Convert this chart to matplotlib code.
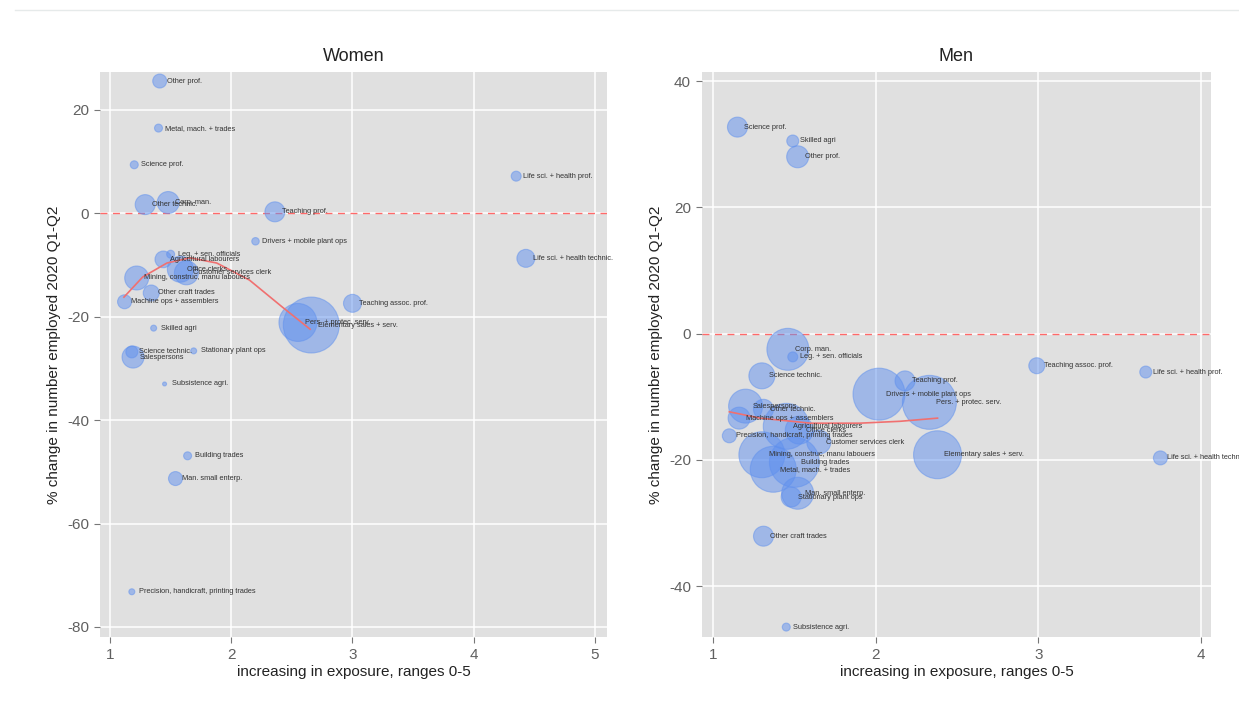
import numpy as np
import matplotlib
matplotlib.use('Agg')
import matplotlib.pyplot as plt
from matplotlib.lines import Line2D

plt.rcParams['font.family'] = ['Liberation Sans', 'DejaVu Sans']
plt.rcParams['axes.unicode_minus'] = False

# ---- women ----
women_jobs = ['Other prof.', 'Metal, mach. + trades', 'Science prof.', 'Other technic.',
              'Corp. man.', 'Teaching prof.', 'Life sci. + health prof.',
              'Drivers + mobile plant ops', 'Life sci. + health technic.',
              'Leg. + sen. officials', 'Agricultural labourers', 'Office clerks',
              'Customer services clerk', 'Mining, construc, manu labouers',
              'Other craft trades', 'Machine ops + assemblers', 'Skilled agri',
              'Science technic.', 'Salespersons', 'Stationary plant ops',
              'Subsistence agri.', 'Pers. + protec. serv.', 'Elementary sales + serv.',
              'Teaching assoc. prof.', 'Building trades', 'Man. small enterp.',
              'Precision, handicraft, printing trades']
women_x = [1.41, 1.40, 1.20, 1.29, 1.48, 2.36, 4.35, 2.20, 4.43, 1.50, 1.44, 1.58,
           1.63, 1.22, 1.34, 1.12, 1.36, 1.18, 1.19, 1.69, 1.45, 2.55, 2.66, 3.00,
           1.64, 1.54, 1.18]
women_y = [25.6, 16.5, 9.4, 1.7, 2.1, 0.3, 7.2, -5.4, -8.7, -7.9, -8.9, -10.8,
           -11.5, -12.5, -15.4, -17.1, -22.2, -26.8, -27.8, -26.6, -33.0, -21.1, -21.6,
           -17.4, -46.9, -51.3, -73.2]
women_emp = [49, 16, 16, 100, 121, 100, 25, 14, 81, 16, 70, 169, 144, 144, 64, 49,
             9, 36, 121, 9, 4, 361, 784, 81, 16, 49, 9]
women_fit_x = [1.115, 1.27, 1.47, 1.66, 1.88, 2.15, 2.42, 2.65]
women_fit_y = [-16.2, -12.3, -9.6, -8.6, -9.6, -12.9, -18.1, -22.4]

# ---- men ----
men_jobs = ['Science prof.', 'Skilled agri', 'Other prof.', 'Corp. man.',
            'Leg. + sen. officials', 'Science technic.', 'Salespersons', 'Other technic.',
            'Machine ops + assemblers', 'Agricultural labourers', 'Office clerks',
            'Precision, handicraft, printing trades', 'Customer services clerk',
            'Mining, construc, manu labouers', 'Building trades', 'Metal, mach. + trades',
            'Man. small enterp.', 'Stationary plant ops', 'Other craft trades',
            'Subsistence agri.', 'Drivers + mobile plant ops', 'Teaching prof.',
            'Pers. + protec. serv.', 'Elementary sales + serv.', 'Teaching assoc. prof.',
            'Life sci. + health prof.', 'Life sci. + health technic.']
men_x = [1.15, 1.49, 1.52, 1.46, 1.49, 1.30, 1.20, 1.31, 1.16, 1.45, 1.53, 1.10, 1.65,
         1.30, 1.50, 1.37, 1.52, 1.48, 1.31, 1.45, 2.02, 2.18, 2.33, 2.38, 2.99, 3.66,
         3.75]
men_y = [32.7, 30.5, 28.0, -2.5, -3.7, -6.7, -11.5, -12.0, -13.4, -14.7, -15.3, -16.2,
         -17.2, -19.2, -20.4, -21.5, -25.3, -25.9, -32.1, -46.5, -9.6, -7.5, -10.9,
         -19.2, -5.1, -6.1, -19.7]
men_emp = [100, 36, 121, 441, 25, 169, 289, 100, 121, 529, 196, 49, 144, 529, 625,
           529, 256, 100, 100, 16, 676, 100, 729, 576, 64, 36, 49]
men_fit_x = [1.10, 1.29, 1.60, 1.90, 2.15, 2.38]
men_fit_y = [-12.4, -13.4, -14.2, -14.2, -13.9, -13.4]

panels = [
    ('Women', women_jobs, women_x, women_y, women_emp, women_fit_x, women_fit_y,
     (0.9175, 5.099), (-81.95, 27.35), [1, 2, 3, 4, 5], [-80, -60, -40, -20, 0, 20]),
    ('Men', men_jobs, men_x, men_y, men_emp, men_fit_x, men_fit_y,
     (0.932, 4.061), (-48.07, 41.43), [1, 2, 3, 4], [-40, -20, 0, 20, 40]),
]

W, H = 1239, 713
fig = plt.figure(figsize=(W / 100, H / 100), dpi=100)
fig.add_artist(Line2D([15 / W, 1], [1 - 10 / H, 1 - 10 / H], color='#e6eaea', lw=1))

boxes = [(100, 607), (702, 1211)]
top, bot = 72, 637

for (title, jobs, xs, ys, emp, fx, fy, xl, yl, xt, yt), (l, r) in zip(panels, boxes):
    ax = fig.add_axes([l / W, 1 - bot / H, (r - l) / W, (bot - top) / H])
    ax.set_facecolor('#e0e0e0')
    for s in ax.spines.values():
        s.set_visible(False)
    ax.grid(True, color='white', lw=1.1)
    ax.set_axisbelow(True)

    ax.axhline(0, color='#ff6a6a', lw=1, ls=(0, (5, 4)), zorder=2)
    ax.scatter(xs, ys, s=np.array(emp) * 2.07, color='#5f90ee', alpha=0.5,
               edgecolors='#5f90ee', linewidths=0.8, zorder=3)
    ax.plot(fx, fy, color='#f07070', lw=1.2, zorder=4)
    for name, x, y in zip(jobs, xs, ys):
        ax.annotate(name, (x, y), xytext=(5, 0), textcoords='offset points',
                    va='center', ha='left', fontsize=5.3, color='#333333',
                    zorder=5, annotation_clip=False)

    ax.set_xlim(*xl)
    ax.set_ylim(*yl)
    ax.set_xticks(xt)
    ax.set_yticks(yt)
    ax.tick_params(colors='#777777', labelcolor='#606060', labelsize=11,
                   length=4, width=0.8, pad=4)
    ax.set_title(title, fontsize=13, color='#222222', pad=8)
    ax.set_xlabel('increasing in exposure, ranges 0-5', fontsize=11, color='#222222',
                  labelpad=2)
    ax.set_ylabel('% change in number employed 2020 Q1-Q2', fontsize=11,
                  color='#222222', labelpad=4)

fig.savefig('out.png', dpi=100)
